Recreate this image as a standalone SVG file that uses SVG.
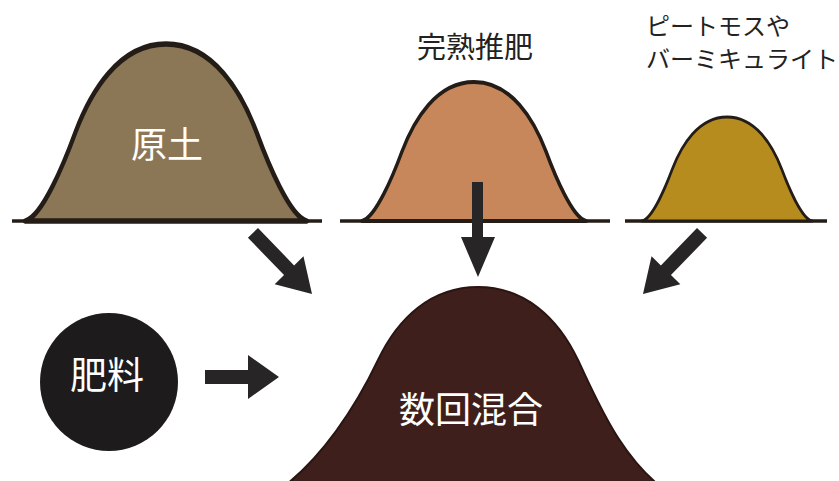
<svg xmlns="http://www.w3.org/2000/svg" width="839" height="481" viewBox="0 0 839 481">
  <style>
    .ground { stroke: #231c17; stroke-width: 3.5; fill: none; }
    .mound { stroke: #231c17; stroke-width: 3; stroke-linejoin: round; }
    .arrow { fill: #272525; }
    .lbl-in { font-family: "Noto Sans CJK JP", "Noto Sans", sans-serif; fill: #ffffff; text-anchor: middle; dominant-baseline: central; }
    .lbl-out { font-family: "Noto Sans CJK JP", "Noto Sans", sans-serif; fill: #222222; dominant-baseline: central; }
  </style>
  <defs>
    <!-- unit bell shape: feet at x=±100, y=0; top at y=-100 -->
    <path id="bell" d="M -100 0 C -87.9 -2.3 -72.1 -33 -64.3 -50 C -53.6 -72.7 -33.6 -100 0 -100 C 33.6 -100 53.6 -72.7 64.3 -50 C 72.1 -33 87.9 -2.3 100 0 Z"/>
  </defs>

  <rect width="839" height="481" fill="#ffffff"/>

  <!-- raw soil -->
  <g id="node-gendo">
    <line class="ground" x1="12" y1="221" x2="322" y2="221"/>
    <use href="#bell" class="mound" fill="#8b7656" vector-effect="non-scaling-stroke" transform="translate(166,221) scale(1.41,1.77)"/>
    <text class="lbl-in" x="167" y="142" font-size="36">原土</text>
  </g>

  <!-- mature compost -->
  <g id="node-compost">
    <line class="ground" x1="340" y1="221" x2="610" y2="221"/>
    <use href="#bell" class="mound" fill="#c8875a" vector-effect="non-scaling-stroke" transform="translate(474,221) scale(1.12,1.39)"/>
    <text class="lbl-out" x="475" y="45" font-size="29" text-anchor="middle">完熟推肥</text>
  </g>

  <!-- peat moss / vermiculite -->
  <g id="node-peat">
    <line class="ground" x1="625" y1="221" x2="827" y2="221"/>
    <use href="#bell" class="mound" fill="#b78c1f" vector-effect="non-scaling-stroke" transform="translate(727,221) scale(0.85,1.04)"/>
    <text class="lbl-out" x="646" y="24" font-size="24">ピートモスや</text>
    <text class="lbl-out" x="646" y="57" font-size="24">バーミキュライト</text>
  </g>

  <!-- fertilizer -->
  <g id="node-fertilizer">
    <circle cx="109" cy="382" r="69" fill="#1d1b1b"/>
    <text class="lbl-in" x="107" y="373" font-size="37">肥料</text>
  </g>

  <!-- mixed several times -->
  <g id="node-mix">
    <path fill="#3e1f1c" stroke="#2a1512" stroke-width="2" d="M 478 287 C 525 287 558 318 578 360 C 598 402 622 462 672 495 L 272 495 C 322 462 358 402 378 360 C 398 318 431 287 478 287 Z"/>
    <text class="lbl-in" x="471" y="407" font-size="36">数回混合</text>
  </g>

  <!-- flow arrows -->
  <g id="connectors">
    <polygon class="arrow" transform="translate(312,294) rotate(46)" points="-85,-7 -33,-7 -33,-20 0,0 -33,20 -33,7 -85,7"/>
    <polygon class="arrow" points="472,182 483,182 483,237 495,237 478,277 461,237 472,237"/>
    <polygon class="arrow" transform="translate(643,294) rotate(134)" points="-85,-7 -33,-7 -33,-20 0,0 -33,20 -33,7 -85,7"/>
    <polygon class="arrow" points="205,370 248,370 248,355 279,377 248,399 248,384 205,384"/>
  </g>
</svg>
